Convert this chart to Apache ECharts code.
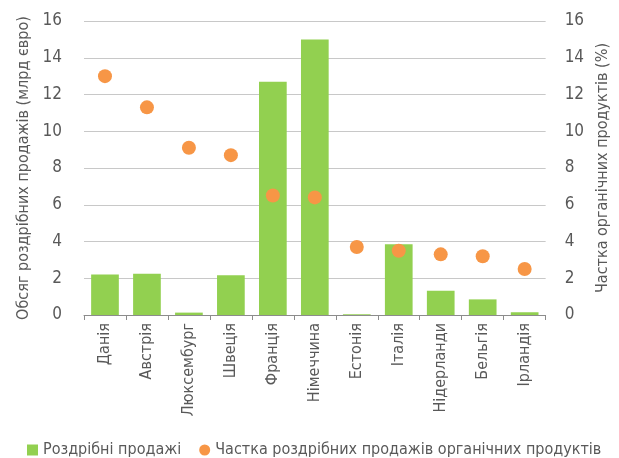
<!DOCTYPE html>
<html>
<head>
<meta charset="utf-8">
<script src="https://cdn.jsdelivr.net/npm/echarts@6/dist/echarts.min.js"></script>
<style>
html, body { margin: 0; padding: 0; background: #fff; }
#chart { width: 619px; height: 458px; }
</style>
</head>
<body>
<div id="chart"></div>
<script>
// Країни
const countries = ['Данія', 'Австрія', 'Люксембург', 'Швеція', 'Франція', 'Німеччина',
  'Естонія', 'Італія', 'Нідерланди', 'Бельгія', 'Ірландія'];
// Обсяг роздрібних продажів, млрд євро
const retailSales = [2.21, 2.25, 0.13, 2.16, 12.7, 15.0, 0.04, 3.85, 1.32, 0.85, 0.15];
// Частка органічних продуктів у роздрібних продажах, %
const organicShare = [13.0, 11.3, 9.1, 8.7, 6.5, 6.4, 3.7, 3.5, 3.3, 3.2, 2.5];
// Поділки осей
const axisTicks = [0, 2, 4, 6, 8, 10, 12, 14, 16];

const FONT = "'Liberation Sans Narrow', 'DejaVu Sans Condensed', sans-serif";
const TEXT = '#595959';

const chart = echarts.init(document.getElementById('chart'), null, { renderer: 'canvas' });

const valueAxis = (pos, name, showSplit) => ({
  type: 'value',
  position: pos,
  min: axisTicks[0],
  max: axisTicks[axisTicks.length - 1],
  interval: axisTicks[1] - axisTicks[0],
  name: name,
  nameLocation: 'middle',
  nameGap: pos === 'left' ? 44 : 48,
  nameTextStyle: { color: TEXT, fontFamily: FONT, fontSize: 16 },
  axisLine: { show: false },
  axisTick: { show: false },
  axisLabel: { color: TEXT, fontFamily: FONT, fontSize: 17, margin: pos === 'left' ? 22 : 19 },
  splitLine: { show: showSplit, lineStyle: { color: '#c8c8c8', width: 1 } }
});

chart.setOption({
  animation: false,
  grid: { left: 84, right: 71, top: 21, bottom: 143 },
  legend: {
    bottom: 0,
    left: 27,
    right: 0,
    padding: 0,
    itemGap: 18,
    itemWidth: 11,
    itemHeight: 11,
    textStyle: { color: TEXT, fontFamily: FONT, fontSize: 16 },
    data: [
      { name: 'Роздрібні продажі', icon: 'rect' },
      { name: 'Частка роздрібних продажів органічних продуктів', icon: 'circle' }
    ]
  },
  xAxis: {
    type: 'category',
    data: countries,
    axisLine: { lineStyle: { color: '#8c8c8c' } },
    axisTick: { show: true, length: 5, lineStyle: { color: '#8c8c8c' } },
    axisLabel: { color: TEXT, fontFamily: FONT, fontSize: 16, rotate: 90, margin: 8, interval: 0 }
  },
  yAxis: [
    valueAxis('left', 'Обсяг роздрібних продажів (млрд євро)', true),
    valueAxis('right', 'Частка органічних продуктів (%)', false)
  ],
  series: [
    {
      name: 'Роздрібні продажі',
      type: 'bar',
      yAxisIndex: 0,
      data: retailSales,
      barWidth: '66%',
      itemStyle: { color: '#92d050' }
    },
    {
      name: 'Частка роздрібних продажів органічних продуктів',
      type: 'scatter',
      yAxisIndex: 1,
      data: organicShare,
      symbol: 'circle',
      symbolSize: 14,
      itemStyle: { color: '#f79646', opacity: 1 },
      z: 3
    }
  ]
});
</script>
</body>
</html>
